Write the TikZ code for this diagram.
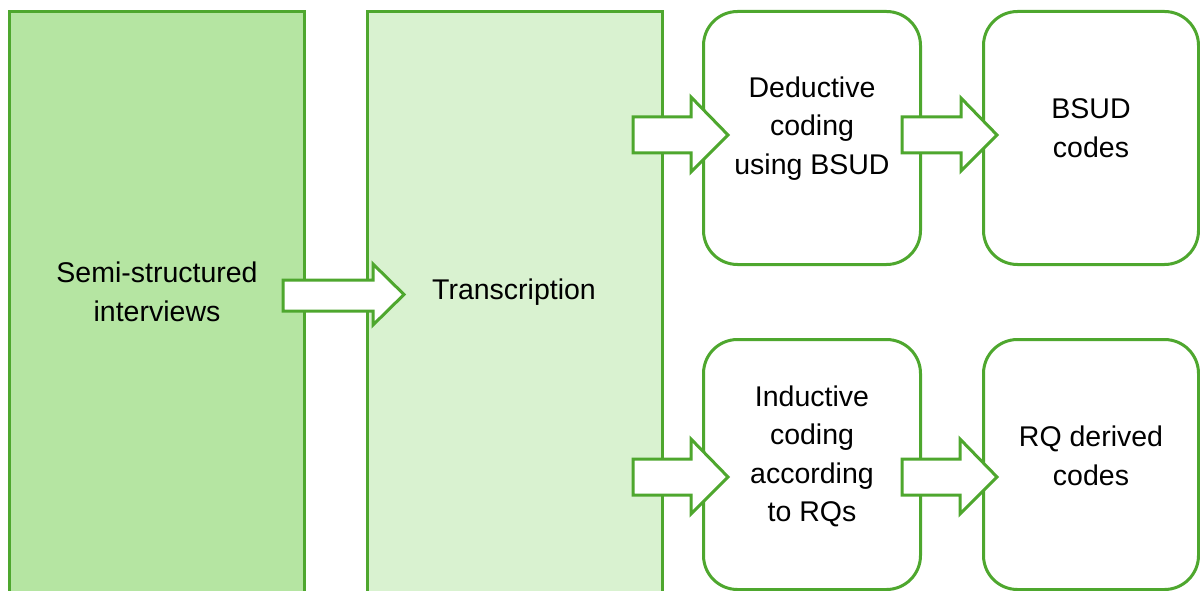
\documentclass[tikz,border=0pt]{standalone}
\usepackage{fontspec}
\setmainfont{Liberation Sans}
\definecolor{edgegreen}{HTML}{4EA72E}
\definecolor{darkfill}{HTML}{B5E5A2}
\definecolor{lightfill}{HTML}{D9F2D0}
\tikzset{
  stage/.style={draw=edgegreen, line width=3pt, inner sep=0pt, outer sep=0pt, anchor=north west},
  codebox/.style={stage, fill=white, rounded corners=34pt},
  blockarrow/.style={draw=edgegreen, line width=3pt, fill=white, line join=miter},
  caption/.style={align=center, text=black, font=\fontsize{28.5}{38.5}\selectfont, inner sep=0pt},
}
\begin{document}
\begin{tikzpicture}[x=1pt, y=-1pt]
\path[use as bounding box, clip] (0,0) rectangle (1200,591);

% tall stage columns (run past the lower edge)
\node[stage, fill=darkfill, minimum width=295pt, minimum height=600pt] (interviews) at (9.5,11.5) {};
\node[stage, fill=lightfill, minimum width=295pt, minimum height=600pt] (transcr) at (367.5,11.5) {};

% coding boxes
\node[codebox, minimum width=217pt, minimum height=253pt] (deductive) at (703.5,11.5) {};
\node[codebox, minimum width=215pt, minimum height=253pt] (bsud) at (983.5,11.5) {};
\node[codebox, minimum width=217pt, minimum height=250pt] (inductive) at (703.5,339.5) {};
\node[codebox, minimum width=215pt, minimum height=250pt] (rqcodes) at (983.5,339.5) {};

% block arrows
\draw[blockarrow] (283,280) -- (373,280) -- (373,264) -- (404,294.5) -- (373,325) -- (373,311) -- (283,311) -- cycle;
\draw[blockarrow] (633,117) -- (691,117) -- (691,97) -- (728,135) -- (691,172) -- (691,153) -- (633,153) -- cycle;
\draw[blockarrow] (902,117) -- (961,117) -- (961,98) -- (997,135) -- (961,171) -- (961,153) -- (902,153) -- cycle;
\draw[blockarrow] (633,459) -- (691,459) -- (691,439) -- (728,477) -- (691,514) -- (691,495) -- (633,495) -- cycle;
\draw[blockarrow] (902,459) -- (960,459) -- (960,439) -- (997,477) -- (960,514) -- (960,495) -- (902,495) -- cycle;

% captions
\node[caption] (t-interviews) at (157,292) {Semi-structured\\interviews};
\node[caption] (t-transcr) at (514,292) {Transcription};
\node[caption] (t-deductive) at (812,128.5) {Deductive\\coding\\using BSUD};
\node[caption] (t-bsud) at (1091,128) {BSUD\\codes};
\node[caption] (t-inductive) at (812,456.5) {Inductive\\coding\\according\\to RQs};
\node[caption] (t-rqcodes) at (1091,456) {RQ derived\\codes};
\end{tikzpicture}
\end{document}
